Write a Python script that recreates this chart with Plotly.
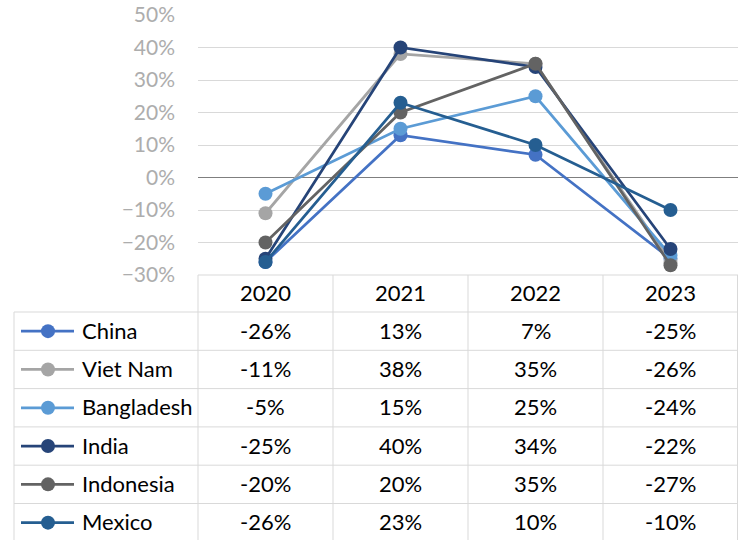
import plotly.graph_objects as go

# Year-over-year change by exporting country
years = ["2020", "2021", "2022", "2023"]
countries = ["China", "Viet Nam", "Bangladesh", "India", "Indonesia", "Mexico"]
china = [-0.26, 0.13, 0.07, -0.25]
viet_nam = [-0.11, 0.38, 0.35, -0.26]
bangladesh = [-0.05, 0.15, 0.25, -0.24]
india = [-0.25, 0.40, 0.34, -0.22]
indonesia = [-0.20, 0.20, 0.35, -0.27]
mexico = [-0.26, 0.23, 0.10, -0.10]
series = [china, viet_nam, bangladesh, india, indonesia, mexico]
colors = ["#4472C4", "#A5A5A5", "#5B9BD5", "#264478", "#636363", "#255E91"]

W, H = 738, 540
FONT = "Lato"
GRID = "#D9D9D9"
TEXT_SIZE = 22

# pixel layout of the chart and its data table
plot_left, plot_right = 198, 738
plot_top, plot_bottom = 15, 275
header_bottom = 312
row_h = 38.3
table_left = 14
legend_line = (21, 74)
legend_marker_x = 48
label_x = 80

fig = go.Figure()

x_idx = list(range(len(years)))
for name, vals, col in zip(countries, series, colors):
    fig.add_trace(go.Scatter(
        x=x_idx, y=vals, name=name, mode="lines+markers",
        line=dict(color=col, width=2.75),
        marker=dict(color=col, size=14),
        xaxis="x", yaxis="y", cliponaxis=False, hoverinfo="skip",
    ))

# legend keys inside the table (pixel-space overlay axes)
for i, (name, col) in enumerate(zip(countries, colors)):
    yc = header_bottom + row_h * (i + 0.5)
    fig.add_trace(go.Scatter(
        x=[legend_line[0], legend_marker_x, legend_line[1]], y=[yc, yc, yc],
        mode="lines", line=dict(color=col, width=2.75),
        xaxis="x2", yaxis="y2", hoverinfo="skip", cliponaxis=False,
    ))
    fig.add_trace(go.Scatter(
        x=[legend_marker_x], y=[yc], mode="markers",
        marker=dict(color=col, size=14),
        xaxis="x2", yaxis="y2", hoverinfo="skip", cliponaxis=False,
    ))

shapes = []
line_style = dict(color=GRID, width=1)
# header row top border and row separators
shapes.append(dict(type="line", xref="x2", yref="y2", x0=plot_left, x1=W,
                   y0=plot_bottom, y1=plot_bottom, line=line_style))
for r in range(len(countries) + 1):
    y = header_bottom + row_h * r
    shapes.append(dict(type="line", xref="x2", yref="y2", x0=table_left, x1=W,
                       y0=y, y1=y, line=line_style))
# vertical separators
shapes.append(dict(type="line", xref="x2", yref="y2", x0=table_left, x1=table_left,
                   y0=header_bottom, y1=H + 5, line=line_style))
col_w = (plot_right - plot_left) / len(years)
for c in range(len(years) + 1):
    x = plot_left + col_w * c
    if c == len(years):
        x = W - 0.5
    shapes.append(dict(type="line", xref="x2", yref="y2", x0=x, x1=x,
                       y0=plot_bottom, y1=H + 5, line=line_style))

annotations = []
# header years
for i, yr in enumerate(years):
    annotations.append(dict(x=i, y=(plot_bottom + header_bottom) / 2 - 1, xref="x", yref="y2",
                            text=yr, showarrow=False,
                            font=dict(family=FONT, size=TEXT_SIZE, color="#000000")))
# country labels and values
for r, (name, vals) in enumerate(zip(countries, series)):
    yc = header_bottom + row_h * (r + 0.5)
    annotations.append(dict(x=label_x, y=yc - 1, xref="x2", yref="y2", text=name,
                            showarrow=False, xanchor="left",
                            font=dict(family=FONT, size=TEXT_SIZE, color="#000000")))
    for i, v in enumerate(vals):
        annotations.append(dict(x=i, y=yc - 1, xref="x", yref="y2",
                                text=f"{round(v * 100):d}%", showarrow=False,
                                font=dict(family=FONT, size=TEXT_SIZE, color="#000000")))

fig.update_layout(
    template="none",
    width=W, height=H,
    margin=dict(l=0, r=0, t=0, b=0, pad=0, autoexpand=False),
    paper_bgcolor="white", plot_bgcolor="rgba(0,0,0,0)",
    showlegend=False,
    xaxis=dict(domain=[plot_left / W, plot_right / W], range=[-0.5, 3.5],
               showgrid=False, showticklabels=False, zeroline=False, showline=False,
               ticks="", automargin=False, fixedrange=True),
    yaxis=dict(domain=[1 - plot_bottom / H, 1 - plot_top / H], range=[-0.3, 0.5],
               dtick=0.1, tick0=0, tickformat=".0%", ticks="", showline=False,
               showgrid=True, gridcolor=GRID, gridwidth=1,
               zeroline=True, zerolinecolor="#7F7F7F", zerolinewidth=1,
               ticklabelstandoff=22, automargin=False,
               tickfont=dict(family=FONT, size=21, color="#ADADAD"), fixedrange=True),
    xaxis2=dict(domain=[0, 1], range=[0, W], visible=False, anchor="y2",
                automargin=False, fixedrange=True),
    yaxis2=dict(domain=[0, 1], range=[H, 0], visible=False, anchor="x2",
                automargin=False, fixedrange=True),
    shapes=shapes,
    annotations=annotations,
)

fig.write_html("out.html")
